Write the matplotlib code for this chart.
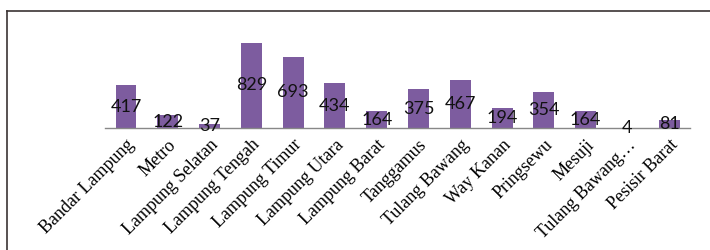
import matplotlib
matplotlib.use("Agg")
import matplotlib.pyplot as plt
from matplotlib.lines import Line2D

# data
regions = ["Bandar Lampung", "Metro", "Lampung Selatan", "Lampung Tengah",
           "Lampung Timur", "Lampung Utara", "Lampung Barat", "Tanggamus",
           "Tulang Bawang", "Way Kanan", "Pringsewu", "Mesuji",
           "Tulang Bawang\u2026", "Pesisir Barat"]
counts = [417, 122, 37, 829, 693, 434, 164, 375, 467, 194, 354, 164, 4, 81]

fig = plt.figure(figsize=(7.1, 2.5), dpi=100)
ax = fig.add_axes([0.148, 0.488, 0.824, 0.37])

x = list(range(len(regions)))
bars = ax.bar(x, counts, width=0.5, color="#7d5c9f", zorder=2)

# value labels in the middle of each bar
for xi, v in zip(x, counts):
    ax.text(xi, v / 2, str(v), ha="center", va="center",
            fontsize=13, family="Lato", color="#111111", zorder=3)

ax.set_xlim(-0.5, len(regions) - 0.5)
ax.set_ylim(0, 900)
ax.set_xticks(x)
ax.set_xticklabels(regions, rotation=45, ha="right", rotation_mode="anchor",
                   family="Liberation Serif", fontsize=13)
ax.tick_params(axis="x", length=0, pad=6)
ax.set_yticks([])
for s in ["top", "left", "right"]:
    ax.spines[s].set_visible(False)
ax.spines["bottom"].set_color("#888888")
ax.spines["bottom"].set_linewidth(1)

# outer frame (top and left edges of the cropped chart box)
fig.add_artist(Line2D([6.5 / 710, 1], [1 - 10.5 / 250, 1 - 10.5 / 250],
                      color="#3b3333", lw=1.2, transform=fig.transFigure))
fig.add_artist(Line2D([6.5 / 710, 6.5 / 710], [0, 1 - 10.5 / 250],
                      color="#3b3333", lw=1.2, transform=fig.transFigure))

fig.savefig("out.png", dpi=100)
